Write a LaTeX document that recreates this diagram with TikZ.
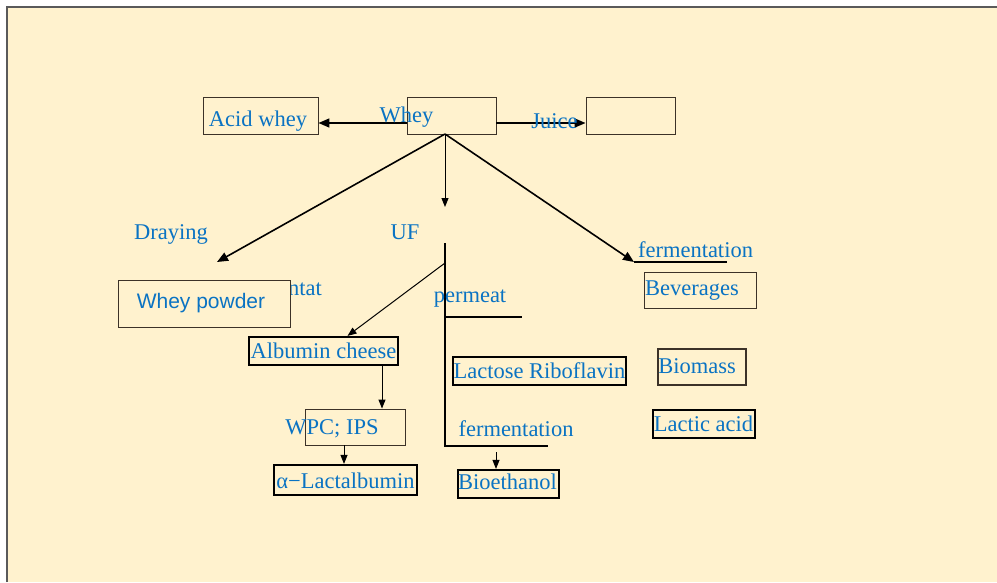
\documentclass[tikz,border=0pt]{standalone}
\usepackage{fontspec}
\setmainfont{Liberation Serif}
\newfontfamily\sansf{Liberation Sans}
\usetikzlibrary{arrows.meta}
\definecolor{bgc}{RGB}{255,242,206}
\definecolor{txtc}{RGB}{10,115,195}
\definecolor{framec}{RGB}{90,90,90}
\definecolor{boxc}{RGB}{60,50,40}
\tikzset{
  thinbox/.style={draw=boxc, line width=0.9pt, fill=bgc, inner sep=0pt},
  thickbox/.style={draw=black, line width=2.2pt, fill=bgc, inner sep=0pt},
  lbl/.style={text=txtc, font=\fontsize{22.5}{26}\selectfont, inner sep=0pt, anchor=base},
  bigarrow/.style={line width=1.6pt, -{Triangle[length=11pt,width=9pt]}},
  smallarrow/.style={line width=1pt, -{Triangle[length=9pt,width=7pt]}},
  plainline/.style={line width=1.2pt},
}
\begin{document}
\begin{tikzpicture}[x=1pt,y=-1pt]
\useasboundingbox (0,0) rectangle (997,582);
\fill[white] (0,0) rectangle (997,582);
\fill[bgc] (7,7) rectangle (997,582);
\draw[framec, line width=1.5pt] (7,582) -- (7,7) -- (997,7);

% text hidden behind the powder box
\node[lbl, anchor=base east] (ntat) at (322,295) {ntat};

% boxes
\node[thinbox, minimum width=115pt, minimum height=37pt] (acid) at (260.5,115.5) {};
\node[thinbox, minimum width=89pt, minimum height=37pt] (whey) at (451.5,115.5) {};
\node[thinbox, minimum width=89pt, minimum height=37pt] (jbox) at (630.5,115.5) {};
\node[thinbox, minimum width=172pt, minimum height=47pt] (powder) at (204,303.5) {};
\node[thickbox, minimum width=149pt, minimum height=28pt] (albumin) at (323.5,351) {};
\node[thinbox, minimum width=100pt, minimum height=36pt] (wpc) at (355,427) {};
\node[thickbox, minimum width=143pt, minimum height=30pt] (alpha) at (345.5,480) {};
\node[thickbox, minimum width=173pt, minimum height=28pt] (lactose) at (539.5,371) {};
\node[thickbox, minimum width=101pt, minimum height=28pt] (bioeth) at (508.5,484) {};
\node[thinbox, minimum width=112pt, minimum height=36pt] (bev) at (700,290) {};
\node[thinbox, line width=1.4pt, minimum width=88pt, minimum height=36pt] (biomass) at (702,367) {};
\node[thickbox, minimum width=102pt, minimum height=28pt] (lactic) at (704,424) {};

% coordinates
\coordinate (hub) at (445,134);
\coordinate (dryend) at (217,262);
\coordinate (ufend) at (445,207);
\coordinate (fermend) at (634,262);
\coordinate (fermline) at (727,262);
\coordinate (vtop) at (445,243);
\coordinate (vsplit) at (445,263);
\coordinate (vperm) at (445,317);
\coordinate (permend) at (522,317);
\coordinate (vbot) at (445,446);
\coordinate (botend) at (548,446);
\coordinate (bioin) at (496,452);

% connectors
\draw[bigarrow] ([yshift=-7.5pt]whey.west) -- ([yshift=-7.5pt]acid.east);
\draw[bigarrow] ([yshift=-7.5pt]whey.east) -- ([yshift=-7.5pt]jbox.west);
\draw[bigarrow] (hub) -- (dryend);
\draw[smallarrow] (hub) -- (ufend);
\draw[bigarrow] (hub) -- (fermend);
\draw[plainline] (fermend) -- (fermline);
\draw[plainline] (vtop) -- (vbot) -- (botend);
\draw[plainline] (vperm) -- (permend);
\draw[smallarrow] (vsplit) -- ([xshift=24pt]albumin.north);
\draw[smallarrow] ([xshift=58.5pt]albumin.south) -- ([xshift=27pt]wpc.north);
\draw[smallarrow] ([xshift=-11pt]wpc.south) -- ([xshift=-1.5pt]alpha.north);
\draw[smallarrow] (bioin) -- ([xshift=-12.5pt]bioeth.north);

% texts
\node[lbl] (tacid) at (258,126) {Acid whey};
\node[lbl] (twhey) at (406.5,122) {Whey};
\node[lbl] (tjuice) at (554.5,128) {Juice};
\node[lbl] (tdry) at (171,239) {Draying};
\node[lbl] (tuf) at (405,239) {UF};
\node[lbl, font=\sansf\fontsize{21}{25}\selectfont] (tpowder) at (201,308) {Whey powder};
\node[lbl] (tferm1) at (695.5,257) {fermentation};
\node[lbl] (tbev) at (692,295) {Beverages};
\node[lbl] (tperm) at (470,302) {permeat};
\node[lbl] (talb) at (323.5,358) {Albumin cheese};
\node[lbl] (tlac) at (539.5,378) {Lactose Riboflavin};
\node[lbl] (twpc) at (332,434) {WPC; IPS};
\node[lbl] (tferm2) at (516,436) {fermentation};
\node[lbl] (talpha) at (345.5,488) {α−Lactalbumin};
\node[lbl] (tbio) at (507.5,489) {Bioethanol};
\node[lbl] (tbiom) at (697,373) {Biomass};
\node[lbl] (tlactic) at (703.5,431) {Lactic acid};
\end{tikzpicture}
\end{document}
